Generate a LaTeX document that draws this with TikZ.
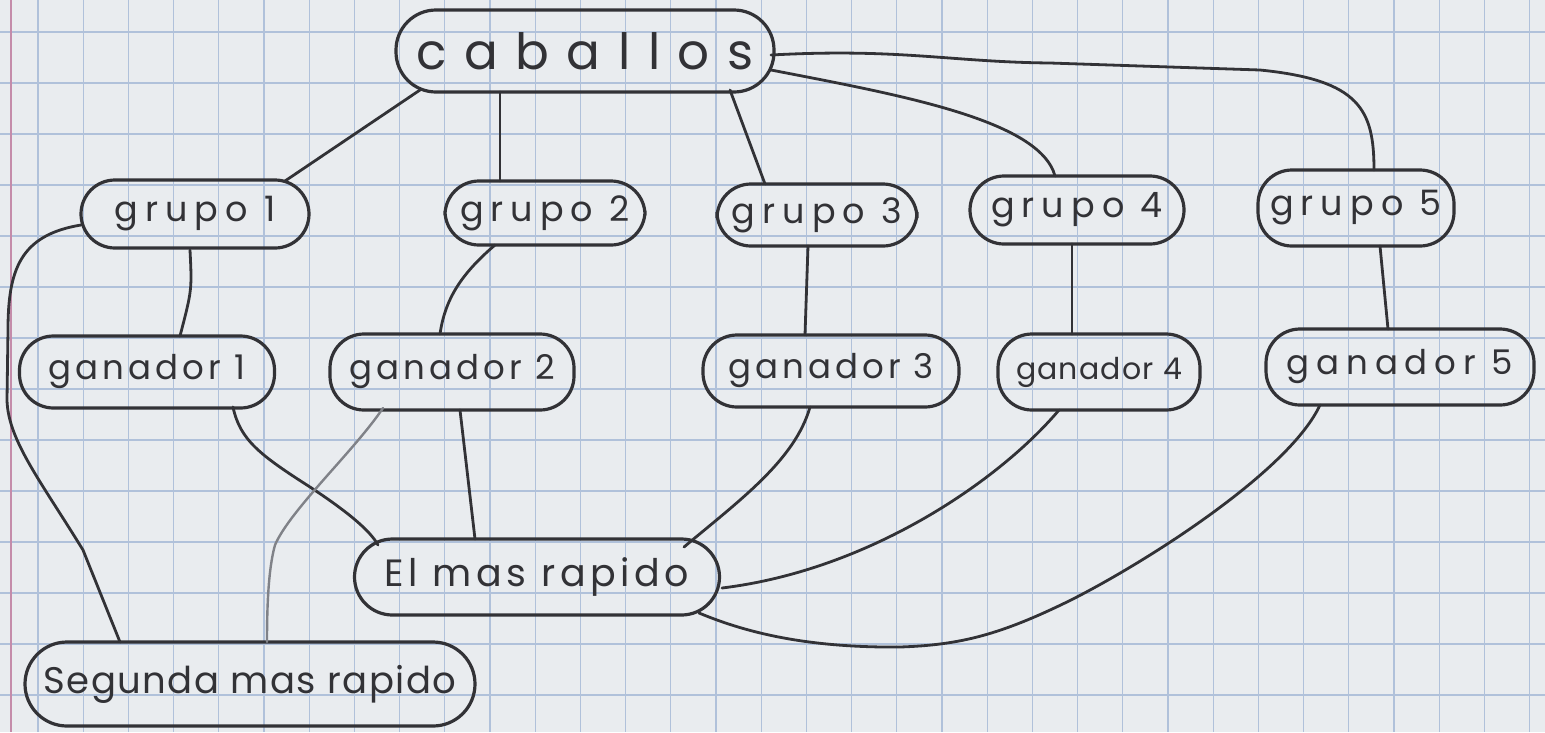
\documentclass[tikz,border=0pt]{standalone}
\usepackage{fontspec}
\setmainfont{Poppins}
\newfontfamily\handA{Poppins}[LetterSpace=20]
\newfontfamily\handB{Poppins}[LetterSpace=35]
\newfontfamily\handC{Poppins}[LetterSpace=4]
\newfontfamily\handD{Poppins}[LetterSpace=12]
\definecolor{paper}{RGB}{233,236,239}
\definecolor{gridc}{RGB}{176,193,218}
\definecolor{ink}{RGB}{50,50,54}
\definecolor{pencil}{RGB}{128,130,136}
\definecolor{marginc}{RGB}{196,140,170}
\tikzset{
  bubble/.style={draw=ink, line width=3.2pt, rounded corners=34pt, inner sep=0pt,
    text=ink, font=\handA\fontsize{35}{37}\selectfont},
  link/.style={draw=ink, line width=2.8pt, line cap=round},
  pencillink/.style={draw=pencil, line width=2.4pt, line cap=round},
  gridline/.style={draw=gridc, line width=1.2pt},
}
\begin{document}
\begin{tikzpicture}[x=1pt,y=-1pt]
\fill[paper] (0,0) rectangle (1545,732);
\useasboundingbox (0,0) rectangle (1545,732);
\foreach \i in {0,...,33} \draw[gridline] ({38+45.2*\i},0) -- ({38+45.2*\i},732);
\foreach \j in {0,...,14} \draw[gridline] (0,{32+51*\j}) -- (1545,{32+51*\j});
\draw[marginc, line width=2pt] (11,0) -- (11,732);

% nodes
\node[bubble, minimum width=378pt, minimum height=82pt, rounded corners=40pt,
      font=\handB\fontsize{50}{52}\selectfont] (cab) at (585,51) {caballos};
\node[bubble, minimum width=228pt, minimum height=68pt] (g1) at (195,214) {grupo 1};
\node[bubble, minimum width=200pt, minimum height=64pt] (g2) at (545,213) {grupo 2};
\node[bubble, minimum width=200pt, minimum height=62pt] (g3) at (817,215) {grupo 3};
\node[bubble, minimum width=214pt, minimum height=68pt] (g4) at (1077,210) {grupo 4};
\node[bubble, minimum width=196pt, minimum height=76pt] (g5) at (1356,208) {grupo 5};
\node[bubble, minimum width=255pt, minimum height=72pt,
      font=\handD\fontsize{34}{36}\selectfont] (w1) at (147,372) {ganador 1};
\node[bubble, minimum width=244pt, minimum height=76pt,
      font=\handD\fontsize{34}{36}\selectfont] (w2) at (452,372) {ganador 2};
\node[bubble, minimum width=256pt, minimum height=72pt,
      font=\handD\fontsize{34}{36}\selectfont] (w3) at (831,371) {ganador 3};
\node[bubble, minimum width=202pt, minimum height=76pt,
      font=\handC\fontsize{30}{32}\selectfont] (w4) at (1099,372) {ganador 4};
\node[bubble, minimum width=268pt, minimum height=76pt,
      font=\handA\fontsize{34}{36}\selectfont] (w5) at (1400,367) {ganador 5};
\node[bubble, minimum width=365pt, minimum height=76pt, rounded corners=38pt,
      font=\handD\fontsize{38}{40}\selectfont] (el) at (537,577) {El mas rapido};
\node[bubble, minimum width=450pt, minimum height=84pt, rounded corners=42pt,
      font=\handC\fontsize{37}{39}\selectfont] (sg) at (250,684) {Segunda mas rapido};

% connectors
\draw[link] ([shift={(-165,39)}]cab.center) -- ([shift={(90,-33)}]g1.center);
\draw[link] ([shift={(-85,41)}]cab.center) -- ([shift={(-45,-32)}]g2.center);
\draw[link] ([shift={(145,39)}]cab.center) -- ([shift={(-52,-31)}]g3.center);
\draw[link] ([shift={(186,19)}]cab.center) .. controls (900,95) and (1040,120) .. ([shift={(-22,-34)}]g4.center);
\draw[link] ([shift={(186,4)}]cab.center) .. controls (900,48) and (950,62) .. (1050,63)
   -- (1260,70) .. controls (1360,80) and (1374,110) .. ([shift={(18,-38)}]g5.center);

\draw[link] ([shift={(-5,36)}]g1.center) .. controls (192,290) .. ([shift={(33,-36)}]w1.center);
\draw[link] ([shift={(-114,11)}]g1.center) .. controls (20,235) and (8,270) .. (8,330)
   -- (7,400) .. controls (8,440) and (40,480) .. (83,550) -- ([shift={(-130,-42)}]sg.center);
\draw[link] ([shift={(-50,32)}]g2.center) .. controls (460,275) and (445,300) .. ([shift={(-12,-38)}]w2.center);
\draw[link] ([shift={(-9,31)}]g3.center) -- ([shift={(-26,-36)}]w3.center);
\draw[link] ([shift={(-5,34)}]g4.center) -- ([shift={(-27,-38)}]w4.center);
\draw[link] ([shift={(24,38)}]g5.center) -- ([shift={(-12,-38)}]w5.center);

\draw[link] ([shift={(86,35)}]w1.center) .. controls (240,440) and (260,455) .. (310,487)
   .. controls (345,510) and (370,530) .. ([shift={(-159,-32)}]el.center);
\draw[link] ([shift={(8,38)}]w2.center) -- ([shift={(-62,-38)}]el.center);
\draw[pencillink] ([shift={(-69,36)}]w2.center) .. controls (355,450) and (290,510) .. (275,545)
   .. controls (268,570) and (267,610) .. ([shift={(17,-42)}]sg.center);
\draw[link] ([shift={(-21,36)}]w3.center) .. controls (795,460) and (740,500) .. ([shift={(147,-30)}]el.center);
\draw[link] ([shift={(-40,38)}]w4.center) .. controls (1000,480) and (870,570) .. ([shift={(185,11)}]el.center);
\draw[link] ([shift={(-80,38)}]w5.center) .. controls (1290,470) and (1150,560) .. (1071,600)
   .. controls (1000,635) and (960,645) .. (900,647)
   .. controls (800,648) and (740,630) .. ([shift={(162,36)}]el.center);
\end{tikzpicture}
\end{document}
